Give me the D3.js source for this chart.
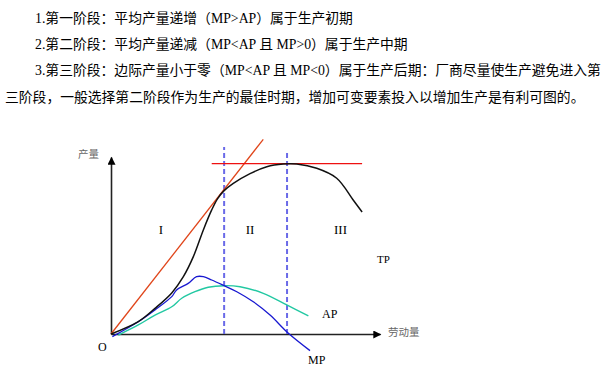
<!DOCTYPE html>
<html><head><meta charset="utf-8">
<script src="https://cdn.jsdelivr.net/npm/d3@7"></script>
<style>
html,body{margin:0;padding:0;background:#fff;}
svg{display:block;}
</style></head>
<body>
<script>
// ---------- data ----------
const textLines = [
  "1.第一阶段：平均产量递增（MP>AP）属于生产初期",
  "2.第二阶段：平均产量递减（MP<AP 且 MP>0）属于生产中期",
  "3.第三阶段：边际产量小于零（MP<AP 且 MP<0）属于生产后期：厂商尽量使生产避免进入第",
  "三阶段，一般选择第二阶段作为生产的最佳时期，增加可变要素投入以增加生产是有利可图的。"
];
const tpX = [0, 1.01, 1.63, 2.25, 2.68, 3.05, 3.42, 3.73, 3.95, 4.19, 4.53, 5.15, 5.77, 6.38, 6.88, 7.62, 8.36, 8.97, 9.30];
const tpY = [0, 0.70, 1.45, 2.32, 3.24, 4.37, 5.88, 7.01, 7.65, 8.10, 8.51, 9.06, 9.45, 9.60, 9.60, 9.36, 8.80, 7.57, 6.89];
const mpX = [0.05, 1.01, 1.63, 2.25, 2.43, 2.86, 3.17, 3.42, 3.73, 4.19, 4.66, 5.27, 5.89, 6.57, 7.37];
const mpY = [-0.15, 0.69, 1.36, 2.11, 2.49, 2.86, 3.24, 3.24, 3.05, 2.73, 2.39, 1.82, 1.07, 0.04, -0.94];
const apX = [0.27, 1.01, 1.63, 2.25, 2.62, 3.11, 3.60, 4.19, 4.78, 5.64, 6.51, 7.31];
const apY = [-0.06, 0.51, 1.07, 1.54, 2.02, 2.39, 2.64, 2.73, 2.67, 2.30, 1.64, 1.02];
const tangentX = [0, 5.64];
const tangentY = [0, 11.0];
const maxTPLevel = 9.63;
const maxTPLineX = [3.73, 9.30];
const stageBounds = [4.19, 6.52];      // AP max, TP max (MP = 0)
const stageTops = [10.56, 10.23];
const stageLabels = ["I", "II", "III"];
const stageLabelX = [1.85, 5.15, 8.5];
const stageLabelY = 5.9;
const curveLabels = ["TP", "AP", "MP"];
const axisLabels = {y: "产量", x: "劳动量", o: "O"};

// ---------- drawing ----------
const W = 610, H = 386;
const svg = d3.select("body").append("svg").attr("width", W).attr("height", H);

// top text
const tg = svg.append("g")
  .attr("font-family", "'Liberation Serif','Noto Sans CJK SC',serif")
  .attr("font-size", 13.8).attr("fill", "#000");
const lineX = [35, 35, 35, 5];
const lineBase = [23, 49, 75, 102];
textLines.forEach((t, i) => {
  tg.append("text").attr("x", lineX[i]).attr("y", lineBase[i]).text(t);
});

const x = d3.scaleLinear().domain([0, 10]).range([111, 381]);
const y = d3.scaleLinear().domain([0, 10]).range([334, 157]);

const defs = svg.append("defs");
defs.append("marker").attr("id", "arr").attr("viewBox", "0 0 10 10")
  .attr("refX", 9).attr("refY", 5).attr("markerWidth", 9).attr("markerHeight", 8)
  .attr("markerUnits", "userSpaceOnUse").attr("orient", "auto")
  .append("path").attr("d", "M0,0L10,5L0,10Z").attr("fill", "#000");

// axes
const xAx = svg.append("g").attr("transform", `translate(0,${y(0)})`)
  .call(d3.axisBottom(d3.scaleLinear().domain([0, 10]).range([x(0), 380])).tickValues([]).tickSizeOuter(0));
xAx.select(".domain").attr("stroke", "#222").attr("stroke-width", 1.6).attr("marker-end", "url(#arr)");
const yAx = svg.append("g").attr("transform", `translate(${x(0)},0)`)
  .call(d3.axisLeft(d3.scaleLinear().domain([0, 10]).range([y(0), 157])).tickValues([]).tickSizeOuter(0));
yAx.select(".domain").attr("stroke", "#222").attr("stroke-width", 1.6).attr("marker-end", "url(#arr)");

// stage dashed lines
stageBounds.forEach((b, i) => {
  svg.append("line").attr("x1", x(b)).attr("x2", x(b)).attr("y1", y(0)).attr("y2", y(stageTops[i]))
    .attr("stroke", "#6a6ae8").attr("stroke-width", 2).attr("stroke-dasharray", "5,3");
});

const line = d3.line().x(d => x(d[0])).y(d => y(d[1])).curve(d3.curveCatmullRom.alpha(0.5));
const zip = (a, b) => a.map((v, i) => [v, b[i]]);

// tangent ray
svg.append("path").attr("d", d3.line().x(d => x(d[0])).y(d => y(d[1]))(zip(tangentX, tangentY)))
  .attr("fill", "none").attr("stroke", "#e0451a").attr("stroke-width", 1.3);
// max TP line
svg.append("line").attr("x1", x(maxTPLineX[0])).attr("x2", x(maxTPLineX[1]))
  .attr("y1", y(maxTPLevel)).attr("y2", y(maxTPLevel))
  .attr("stroke", "#ee1111").attr("stroke-width", 1.3);

// curves
svg.append("path").attr("d", line(zip(apX, apY))).attr("fill", "none")
  .attr("stroke", "#22c8a2").attr("stroke-width", 1.4);
svg.append("path").attr("d", line(zip(mpX, mpY))).attr("fill", "none")
  .attr("stroke", "#1818d0").attr("stroke-width", 1.3);
svg.append("path").attr("d", line(zip(tpX, tpY))).attr("fill", "none")
  .attr("stroke", "#111").attr("stroke-width", 1.5);

// labels
const lf = "'Liberation Serif','Times New Roman',serif";
stageLabels.forEach((s, i) => {
  svg.append("text").attr("x", x(stageLabelX[i])).attr("y", y(stageLabelY)).attr("dy", "0.35em")
    .attr("text-anchor", "middle").attr("font-family", lf).attr("font-size", 13).text(s);
});
const clPos = [[377, 263], [322, 318], [308, 364]];
curveLabels.forEach((s, i) => {
  svg.append("text").attr("x", clPos[i][0]).attr("y", clPos[i][1])
    .attr("font-family", lf).attr("font-size", i === 0 ? 11 : 12).text(s);
});
svg.append("text").attr("x", 98).attr("y", 351).attr("font-family", lf).attr("font-size", 12).text(axisLabels.o);
svg.append("text").attr("x", 78).attr("y", 158).attr("font-family", "'Noto Sans CJK SC',sans-serif")
  .attr("font-size", 10.5).attr("fill", "#666").text(axisLabels.y);
svg.append("text").attr("x", 388).attr("y", 336).attr("font-family", "'Noto Sans CJK SC',sans-serif")
  .attr("font-size", 10.5).attr("fill", "#666").text(axisLabels.x);
</script>
</body></html>
